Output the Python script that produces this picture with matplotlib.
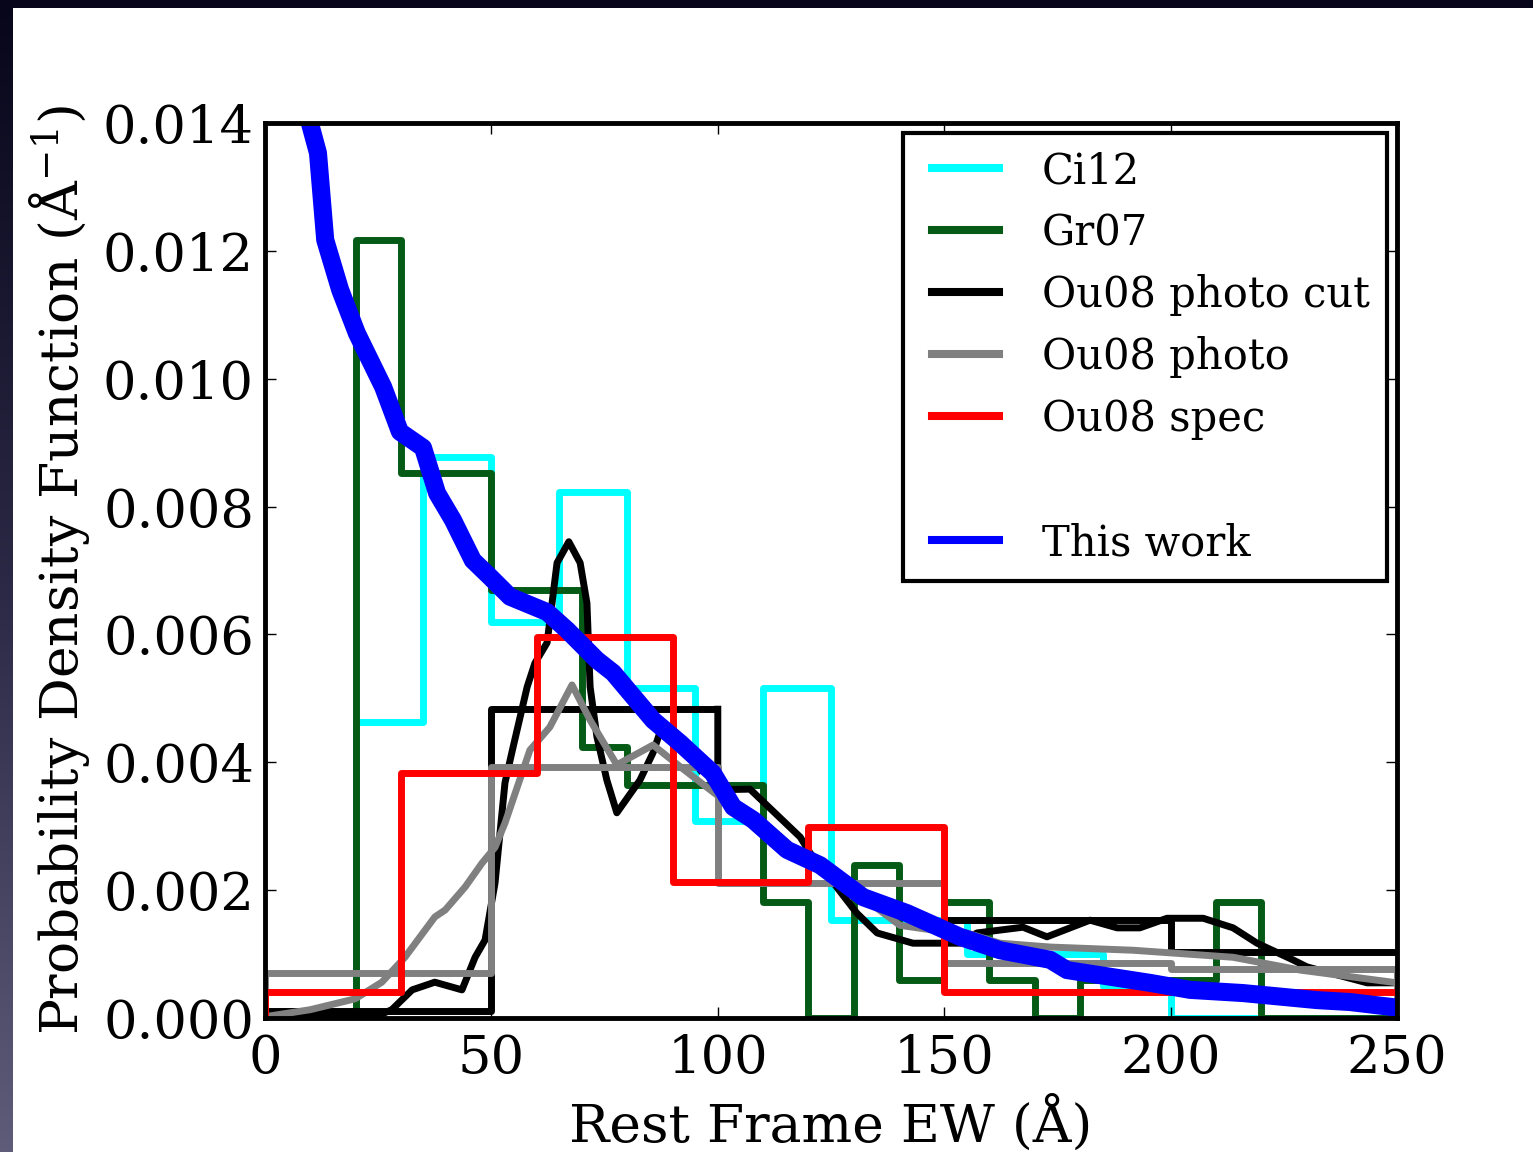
import numpy as np
import matplotlib.pyplot as plt
from matplotlib.lines import Line2D
from matplotlib.legend_handler import HandlerLine2D
from matplotlib.colors import LinearSegmentedColormap

plt.rcParams['font.family'] = 'DejaVu Serif'
plt.rcParams['mathtext.fontset'] = 'dejavuserif'

# Ci12 histogram (15 A bins from 20 A)
ci12_edges = np.arange(20, 250, 15)
ci12_vals = [0.00463, 0.00877, 0.00619, 0.00823, 0.00516, 0.00308, 0.00516,
             0.00153, 0.00153, 0.00100, 0.00100, 0.00050, 0.0, 0.0, 0.0]

# Gr07 histogram (10 A bins from 20 A)
gr07_edges = np.arange(20, 260, 10)
gr07_vals = [0.01217, 0.00852, 0.00852, 0.00670, 0.00670, 0.00424, 0.00364,
             0.00364, 0.00364, 0.00181, 0.0, 0.00240, 0.00059, 0.00181,
             0.00059, 0.0, 0.00060, 0.00060, 0.00060, 0.00181, 0.0, 0.0, 0.0]

# Ou08 photo cut: 50 A histogram + smoothed curve
cut_edges_lo = [0, 50, 100]
cut_vals_lo = [0.00011, 0.00483]
cut_edges_hi = [150, 200, 250]
cut_vals_hi = [0.00153, 0.00104]
cut_ew = [0, 12, 25.4, 28.0, 32.5, 37.5, 43.5, 46.4, 48.6, 50.8, 53.0, 54.8,
          57.9, 59.6, 62.3, 64.5, 67.1, 69.6, 71.1, 71.8, 73.3, 75.5, 77.7,
          82.8, 85.7, 87.9, 91.7, 96.1, np.nan,
          100.0, 100.0, 107.1, 118.2, 120.4, 125.9, 130.7, 135.2, 143.1,
          153.5, 157.2, 167.4, 172.7, 182.2, 188.2, 193.2, 199.2, 207.2,
          213.8, 219.1, 227.0, 230.1, 243.4, 250]
cut_pdf = [0.00002, 0.00003, 0.00005, 0.00013, 0.00044, 0.00056, 0.00044,
           0.00095, 0.00122, 0.00211, 0.00368, 0.00424, 0.00518, 0.00555,
           0.00587, 0.00712, 0.00745, 0.00712, 0.00649, 0.00518, 0.00440,
           0.00372, 0.00321, 0.00372, 0.00415, 0.00461, 0.00430, 0.00388,
           np.nan,
           0.00483, 0.00357, 0.00358, 0.00283, 0.00258, 0.00208, 0.00164,
           0.00133, 0.00117, 0.00117, 0.00133, 0.00142, 0.00127, 0.00153,
           0.00141, 0.00141, 0.00156, 0.00156, 0.00141, 0.00117, 0.00091,
           0.00080, 0.00055, 0.00055]

# Ou08 photo: 50 A histogram + smoothed curve
photo_edges = [0, 50, 100, 150, 200, 250]
photo_vals = [0.00071, 0.00393, 0.00211, 0.00086, 0.00077]
photo_ew = [0, 10, 19.9, 25.8, 30.9, 37.5, 39.8, 44.2, 47.9, 50.8, 53.0,
            58.5, 62.9, 67.8, 71.8, 77.7, 85.7, 91.7, 100.5, 109.3, 118.2,
            125.4, 133.6, 140.2, 147.0, 155.0, 162.3, 173.4, 191.7, 213.8,
            228.6, 250]
photo_pdf = [0.00002, 0.00013, 0.00030, 0.00056, 0.00095, 0.00158, 0.00169,
             0.00205, 0.00242, 0.00267, 0.00305, 0.00419, 0.00455, 0.00521,
             0.00466, 0.00396, 0.00427, 0.00393, 0.00345, 0.00290, 0.00250,
             0.00222, 0.00180, 0.00145, 0.00138, 0.00133, 0.00117, 0.00111,
             0.00106, 0.00095, 0.00075, 0.00055]

# Ou08 spec histogram (30 A bins)
spec_edges = np.arange(0, 300, 30)
spec_vals = [0.00041, 0.00383, 0.00596, 0.00213, 0.00299, 0.00041, 0.00041,
             0.00041, 0.00041]

# This work
this_ew = [8.0, 9.9, 11.7, 13.3, 16.6, 20.3, 23.2, 26.1, 29.8, 34.9, 38.0,
           41.5, 45.9, 49.7, 54.1, 62.3, 66.7, 73.3, 76.9, 85.7, 91.7, 98.9,
           103.4, 107.8, 115.3, 122.6, 132.1, 141.8, 153.5, 162.3, 173.4,
           177.1, 184.4, 195.4, 204.3, 216.0, 232.3, 239.6, 249.1, 252]
this_pdf = [0.0152, 0.0140, 0.01353, 0.01217, 0.01139, 0.01071, 0.01029,
            0.00987, 0.00917, 0.00892, 0.00821, 0.00779, 0.00716, 0.00690,
            0.00659, 0.00635, 0.00607, 0.00560, 0.00540, 0.00466, 0.00430,
            0.00383, 0.00330, 0.00310, 0.00263, 0.00239, 0.00189, 0.00164,
            0.00127, 0.00106, 0.00091, 0.00075, 0.00067, 0.00055, 0.00044,
            0.00039, 0.00028, 0.00025, 0.00017, 0.00016]

labels = ['Ci12', 'Gr07', 'Ou08 photo cut', 'Ou08 photo', 'Ou08 spec', ' ', 'This work']
green = '#055a16'

fig = plt.figure(figsize=(15.33, 11.52), dpi=100)

# dark slide border on the left and top
bg = fig.add_axes([0, 0, 13 / 1533, 1])
grad = np.linspace(0, 1, 256)[:, None]
edge_cmap = LinearSegmentedColormap.from_list('edge', ['#5f5c7a', '#2a2844', '#08061a'])
bg.imshow(grad, aspect='auto', extent=[0, 1, 0, 1], origin='lower', cmap=edge_cmap)
bg.axis('off')
fig.add_artist(plt.Rectangle((0, 1 - 8 / 1152), 1, 8 / 1152,
                             transform=fig.transFigure, color='#08061a', lw=0))

ax = fig.add_axes([265 / 1533, 1 - 1018 / 1152, 1132 / 1533, 895 / 1152])

lw = 5
ax.stairs(ci12_vals, ci12_edges, color='cyan', lw=lw, joinstyle='round', zorder=1)
ax.stairs(gr07_vals, gr07_edges, color=green, lw=lw, joinstyle='round', zorder=1.1)
ax.stairs(cut_vals_lo, cut_edges_lo, baseline=None, color='k', lw=lw,
          joinstyle='round', zorder=1.2)
ax.stairs(cut_vals_hi, cut_edges_hi, baseline=None, color='k', lw=lw,
          joinstyle='round', zorder=1.2)
ax.plot(cut_ew, cut_pdf, color='k', lw=lw, zorder=1.3)
ax.stairs(photo_vals, photo_edges, color='gray', lw=lw, joinstyle='round', zorder=1.4)
ax.plot(photo_ew, photo_pdf, color='gray', lw=lw, zorder=1.5)
ax.stairs(spec_vals, spec_edges, color='red', lw=lw, joinstyle='round', zorder=1.6)
ax.plot(this_ew, this_pdf, color='blue', lw=13, zorder=1.7)

ax.set_xlim(0, 250)
ax.set_ylim(0, 0.014)
ax.set_xticks(np.arange(0, 251, 50))
ax.set_yticks(np.arange(0, 0.0141, 0.002))
ax.set_yticklabels(['%.3f' % v for v in np.arange(0, 0.0141, 0.002)])
ax.tick_params(direction='in', length=8, width=1, top=True, right=True,
               labelsize=38, pad=8)
ax.tick_params(axis='x', pad=11)
for sp in ax.spines.values():
    sp.set_linewidth(3.5)

ax.set_xlabel('Rest Frame EW (Å)', fontsize=38.5, labelpad=8)
ax.set_ylabel('Probability Density Function (Å$^{-1}$)', fontsize=38.5, labelpad=8)

colors = ['cyan', green, 'k', 'gray', 'red', 'none', 'blue']
handles = [Line2D([], [], color=c, lw=5.8) for c in colors]
leg = ax.legend(handles, labels, loc='upper right', fontsize=30, fancybox=False,
                framealpha=1, edgecolor='k', borderaxespad=0.25,
                handlelength=1.9, handletextpad=1.03, labelspacing=0.48,
                borderpad=0.4, handler_map={Line2D: HandlerLine2D(xpad=0.29)})
leg.get_frame().set_linewidth(3)

fig.savefig('out.png', dpi=100)
